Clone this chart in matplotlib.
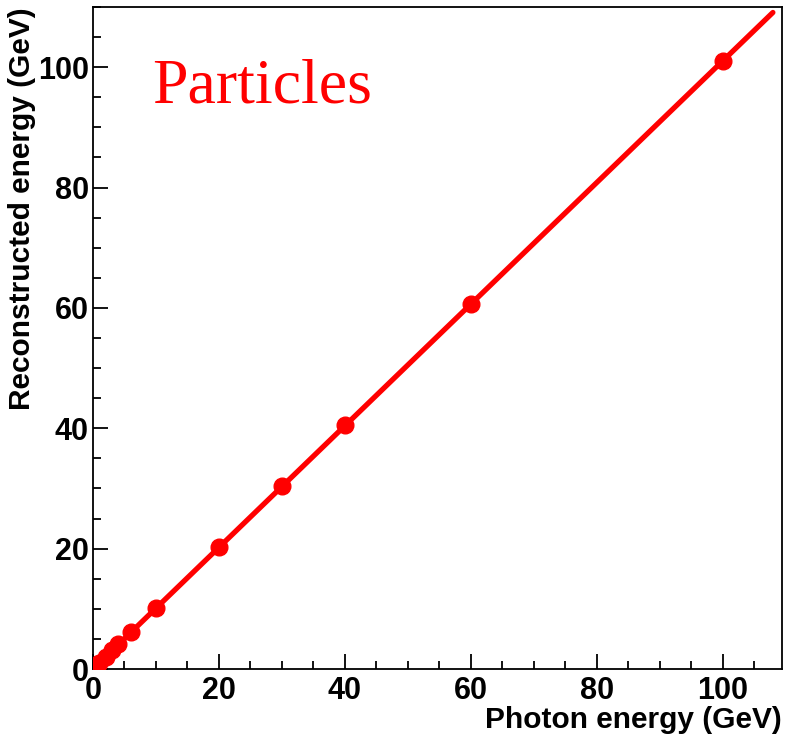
import numpy as np
import matplotlib.pyplot as plt
from matplotlib.ticker import MultipleLocator

# measured points
photon_e = [1, 2, 3, 4, 6, 10, 20, 30, 40, 60, 100]
reco_e = [1.0, 2.0, 3.1, 4.1, 6.1, 10.2, 20.2, 30.4, 40.5, 60.7, 101.0]

# linear fit line
fit_x = [0, 108]
slope = np.polyfit(photon_e, reco_e, 1)[0]
fit_y = [slope * x for x in fit_x]

plt.rcParams['font.family'] = ['Liberation Sans', 'DejaVu Sans']

fig = plt.figure(figsize=(7.88, 7.39), dpi=100)
ax = fig.add_axes([0.118, 0.0947, 0.874, 0.8958])

ax.plot(fit_x, fit_y, color='red', lw=3.8, solid_capstyle='round', zorder=2)
ax.plot(photon_e, reco_e, 'o', color='red', ms=12, zorder=3)

ax.set_xlim(0, 109.4)
ax.set_ylim(0, 110)
ax.xaxis.set_major_locator(MultipleLocator(20))
ax.xaxis.set_minor_locator(MultipleLocator(5))
ax.yaxis.set_major_locator(MultipleLocator(20))
ax.yaxis.set_minor_locator(MultipleLocator(5))
ax.tick_params(which='both', direction='in', top=False, right=False,
               width=1.3, labelsize=22, pad=5)
ax.tick_params(axis='y', pad=3)
ax.tick_params(which='major', length=11)
ax.tick_params(which='minor', length=6)
for lab in ax.get_xticklabels() + ax.get_yticklabels():
    lab.set_fontweight('bold')
for s in ax.spines.values():
    s.set_linewidth(1.3)

ax.set_xlabel('Photon energy (GeV)', fontsize=21.5, fontweight='bold', loc='right', labelpad=0)
ax.set_ylabel('Reconstructed energy (GeV)', fontsize=21.5, fontweight='bold', loc='top', labelpad=1)

ax.text(0.086, 0.856, 'Particles', transform=ax.transAxes, color='red',
        fontsize=46, family='Liberation Serif', va='baseline', ha='left')

fig.savefig('out.png', dpi=100)
